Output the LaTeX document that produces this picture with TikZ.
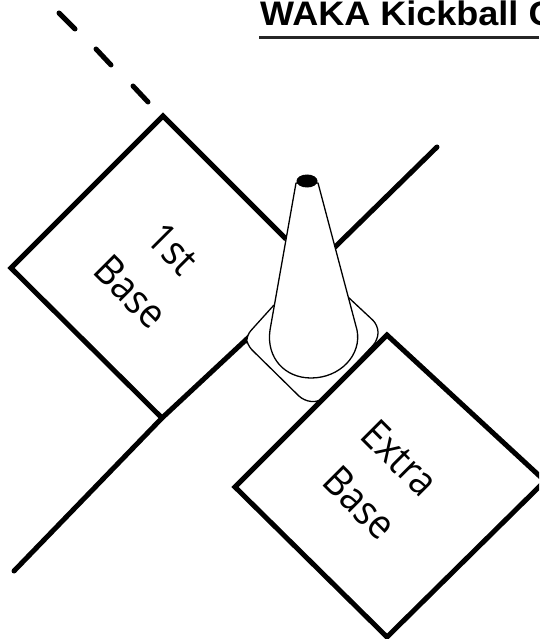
\documentclass[tikz,border=0pt]{standalone}
\usepackage{fontspec}
\setmainfont{Open Sans}
\newfontfamily\titlefont{Liberation Sans}
\begin{document}
\begin{tikzpicture}[x=1pt,y=-1pt,
  thick line/.style={line width=5pt,black,line cap=butt,line join=miter},
  thin line/.style={line width=1.3pt,black,line join=round},
  base label/.style={font=\fontsize{41}{41}\selectfont,rotate=-45,inner sep=0pt,text=black,xscale=.9},
  title label/.style={font=\titlefont\bfseries\fontsize{34}{34}\selectfont,anchor=base west,inner sep=0pt,text=black,xscale=1.06}]
\useasboundingbox (0,0) rectangle (539,639);
\clip (0,0) rectangle (539,639);
% title
\node[title label] (title) at (260,26) {WAKA Kickball C};
\draw[line width=3pt,black!85] (259,38) -- (539,38);
% foul line
\draw[thick line,line cap=round] (14,571) -- (162,418) -- (250,336);
\draw[thick line,line cap=round] (335,247) -- (437,147);
% dashed extension
\draw[line width=5pt,line cap=round] (59,13) -- (75,29);
\draw[line width=5pt,line cap=round] (96,49) -- (111,65);
\draw[line width=5pt,line cap=round] (133,86) -- (148,102);
% first base
\draw[thick line] (286,239) -- (163,116) -- (11,268) -- (162,418);
% cone base
\draw[thin line,fill=white,rounded corners=7pt] (274,305) -- (246,336) -- (247,345) -- (304,401) -- (320,402) -- (378,340) -- (378,325) -- (348,297);
% extra base
\draw[thick line,fill=white] (387,335) -- (235,487) -- (387,637) -- (545,481) -- cycle;
% cone
\draw[thin line,fill=white] (296,183) -- (270,330) .. controls (266,358) and (285,378) .. (311,378) .. controls (340,378) and (362,355) .. (357,330) -- (318,183) -- cycle;
\fill[black] (307,181) ellipse (10.5pt and 6.5pt);
% labels
\node[base label] (first) at (173,249) {1st};
\node[base label] (firstb) at (131,292) {Base};
\node[base label] (extra) at (400,458) {Extra};
\node[base label] (extrab) at (360,503) {Base};
\end{tikzpicture}
\end{document}
